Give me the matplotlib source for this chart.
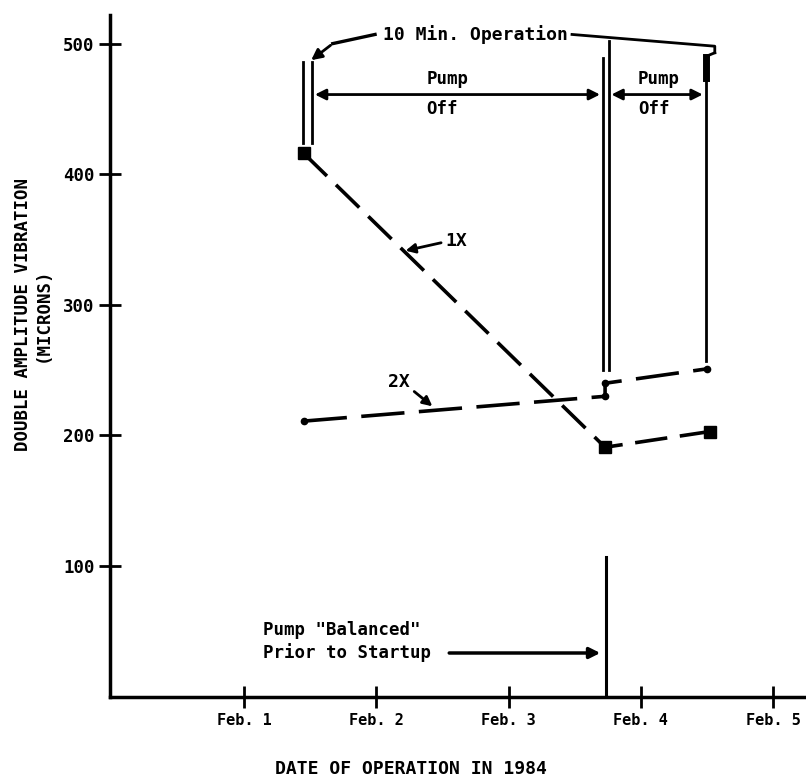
import numpy as np
import matplotlib
matplotlib.use('Agg')
import matplotlib.pyplot as plt

# Data (x = days after Jan. 31, 1984)
day_ticks = [1, 2, 3, 4, 5]
day_labels = ['Feb. 1', 'Feb. 2', 'Feb. 3', 'Feb. 4', 'Feb. 5']
y_ticks = [100, 200, 300, 400, 500]

x_1x = [1.45, 3.73, 4.52]
y_1x = [416, 191, 203]

x_2x = [1.45, 3.73, 3.73, 4.50]
y_2x = [211, 230, 240, 251]

# 10 minute operation times
op_days = [1.48, 3.735, 4.49]

plt.rcParams['font.family'] = ['DejaVu Sans Mono']
plt.rcParams['font.weight'] = 'bold'

fig = plt.figure(figsize=(8.06, 7.82), dpi=100)
ax = fig.add_axes([0.1365, 0.109, 0.8635, 0.872])
ax.set_xlim(-0.015, 5.25)
ax.set_ylim(0, 522)

for s in ['top', 'right']:
    ax.spines[s].set_visible(False)
for s in ['left', 'bottom']:
    ax.spines[s].set_linewidth(2.5)

ax.set_xticks(day_ticks)
ax.set_xticklabels(day_labels, fontsize=11)
ax.set_yticks(y_ticks)
ax.set_yticklabels([str(v) for v in y_ticks], fontsize=12.5)
ax.tick_params(direction='inout', length=16, width=2, pad=3)
ax.tick_params(axis='x', pad=4)

# 1X and 2X curves
ax.plot(x_1x, y_1x, color='k', lw=2.6, linestyle=(0, (9, 3.5)),
        marker='s', markersize=9)
ax.plot(x_2x, y_2x, color='k', lw=2.6, linestyle=(0, (12, 4)),
        marker='o', markersize=4.5)

# double lines at first two operations, single at the third
d = 0.034
ax.plot([op_days[0] - d, op_days[0] - d], [424, 486], color='k', lw=2)
ax.plot([op_days[0] + d, op_days[0] + d], [424, 486], color='k', lw=2)
ax.plot([op_days[1] - 0.022, op_days[1] - 0.022], [250, 489], color='k', lw=2)
ax.plot([op_days[1] + 0.022, op_days[1] + 0.022], [250, 502], color='k', lw=2)
ax.plot([op_days[2], op_days[2]], [257, 476], color='k', lw=2)
ax.plot([op_days[2], op_days[2]], [474, 490], color='k', lw=5)
ax.plot([op_days[1], op_days[1]], [0, 107], color='k', lw=2.2)

# pump off arrows
arrow_y = 461
ax.annotate('', xy=(op_days[0] + d, arrow_y), xytext=(op_days[1] - 0.022, arrow_y),
            arrowprops=dict(arrowstyle='<|-|>', color='k', lw=2, mutation_scale=16))
ax.annotate('', xy=(op_days[1] + 0.022, arrow_y), xytext=(op_days[2], arrow_y),
            arrowprops=dict(arrowstyle='<|-|>', color='k', lw=2, mutation_scale=16))
ax.text(2.38, 473, 'Pump', fontsize=12.5, ha='left', va='center')
ax.text(2.38, 450, 'Off', fontsize=12.5, ha='left', va='center')
ax.text(3.98, 473, 'Pump', fontsize=12.5, ha='left', va='center')
ax.text(3.98, 450, 'Off', fontsize=12.5, ha='left', va='center')

# 10 min operation leader
ax.text(2.75, 507, '10 Min. Operation', fontsize=13, ha='center', va='center')
ax.plot([3.48, 4.56, 4.56], [507, 498, 493], color='k', lw=2)
ax.plot([4.56, op_days[2]], [493, 490], color='k', lw=2)
ax.annotate('', xy=(op_days[0] + 0.01, 486), xytext=(1.67, 500),
            arrowprops=dict(arrowstyle='-|>', color='k', lw=2, mutation_scale=16))
ax.plot([1.67, 1.99], [500, 507], color='k', lw=2.4)

# 1X / 2X labels
ax.text(2.52, 349, '1X', fontsize=13, ha='left', va='center')
ax.annotate('', xy=(2.20, 341), xytext=(2.51, 348),
            arrowprops=dict(arrowstyle='-|>', color='k', lw=2, mutation_scale=14))
ax.text(2.09, 241, '2X', fontsize=13, ha='left', va='center')
ax.annotate('', xy=(2.44, 221), xytext=(2.27, 235),
            arrowprops=dict(arrowstyle='-|>', color='k', lw=2, mutation_scale=14))

# balanced note
ax.text(1.14, 51, 'Pump "Balanced"', fontsize=12.5, ha='left', va='center')
ax.text(1.14, 33.5, 'Prior to Startup', fontsize=12.5, ha='left', va='center')
ax.annotate('', xy=(op_days[1] - 0.02, 33.5), xytext=(2.53, 33.5),
            arrowprops=dict(arrowstyle='-|>', color='k', lw=2.5, mutation_scale=16))

fig.text(0.041, 0.598, 'DOUBLE AMPLITUDE VIBRATION\n(MICRONS)', rotation=90,
         ha='center', va='center', fontsize=12.5, linespacing=1.15)
fig.text(0.51, 0.016, 'DATE OF OPERATION IN 1984', ha='center', va='center',
         fontsize=13)

fig.savefig('out.png', dpi=100)
